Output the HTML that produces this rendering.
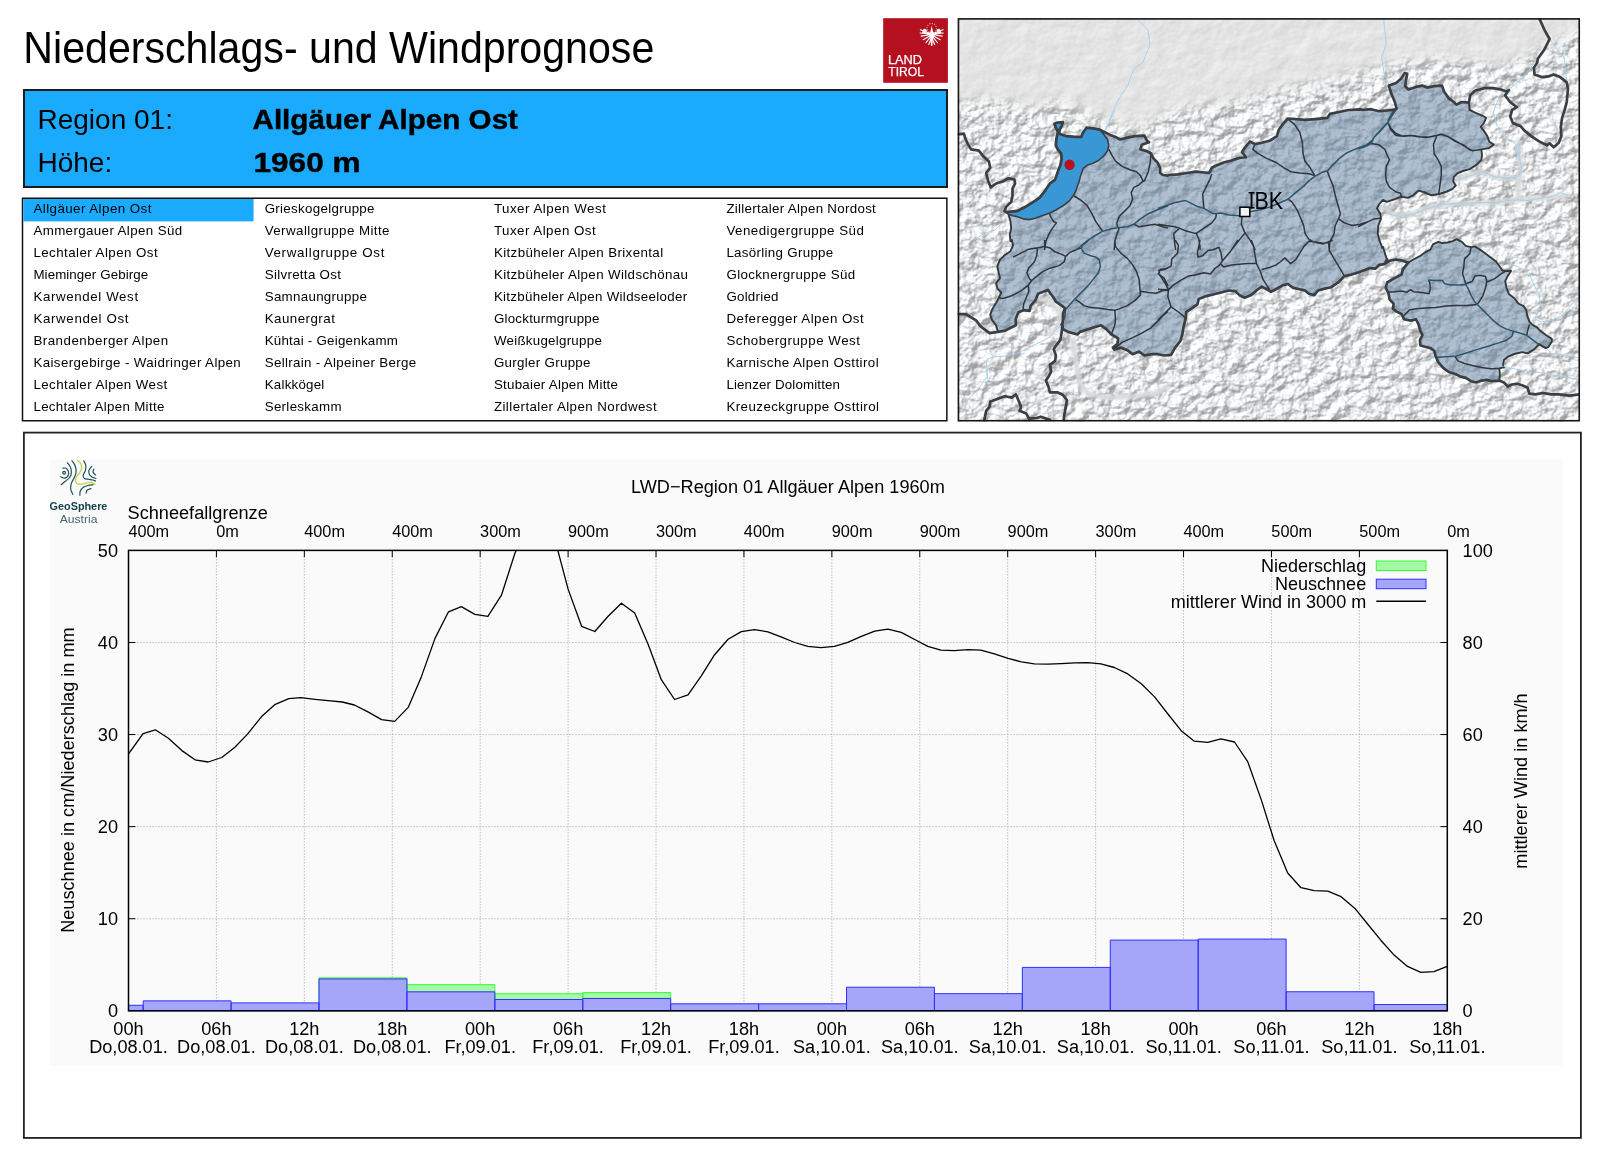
<!DOCTYPE html>
<html lang="de"><head><meta charset="utf-8"><title>Niederschlags- und Windprognose</title>
<style>
html,body{margin:0;padding:0;background:#fff;}
body{width:1600px;height:1153px;overflow:hidden;font-family:"Liberation Sans",sans-serif;}
svg{display:block;position:absolute;left:0;top:0;}
</style></head><body>
<svg width="1600" height="1153" viewBox="0 0 1600 1153">
<rect width="1600" height="1153" fill="#fff"/>
<g opacity="0.999">
<text font-family="'Liberation Sans', sans-serif" x="23.3" y="63" font-size="44" textLength="631" lengthAdjust="spacingAndGlyphs" fill="#000">Niederschlags- und Windprognose</text>
<rect x="24" y="90" width="923" height="97" fill="#1aabff" stroke="#1b1b1b" stroke-width="2"/>
<g font-family="'Liberation Sans', sans-serif" font-size="28" fill="#000">
<text x="37.5" y="129">Region 01:</text>
<text x="37.5" y="172">Höhe:</text>
<text x="252.5" y="128.8" font-weight="bold" stroke="#000" stroke-width="0.45" textLength="265.5" lengthAdjust="spacingAndGlyphs">Allgäuer Alpen Ost</text>
<text x="253.5" y="171.9" font-weight="bold" stroke="#000" stroke-width="0.45" textLength="107" lengthAdjust="spacingAndGlyphs">1960 m</text>
</g>
<rect x="22.5" y="198.25" width="924.35" height="222.5" fill="#fff" stroke="#111" stroke-width="1.5"/>
<rect x="23.25" y="199" width="230.3" height="22.4" fill="#1aabff"/>
<g font-family="'Liberation Sans', sans-serif" font-size="13.33" fill="#000">
<text x="33.4" y="213.25" letter-spacing="0.447">Allgäuer Alpen Ost</text>
<text x="33.4" y="235.25" letter-spacing="0.379">Ammergauer Alpen Süd</text>
<text x="33.4" y="257.25" letter-spacing="0.439">Lechtaler Alpen Ost</text>
<text x="33.4" y="279.25" letter-spacing="0.087">Mieminger Gebirge</text>
<text x="33.4" y="301.25" letter-spacing="0.608">Karwendel West</text>
<text x="33.4" y="323.25" letter-spacing="0.642">Karwendel Ost</text>
<text x="33.4" y="345.25" letter-spacing="0.489">Brandenberger Alpen</text>
<text x="33.4" y="367.25" letter-spacing="0.397">Kaisergebirge - Waidringer Alpen</text>
<text x="33.4" y="389.25" letter-spacing="0.426">Lechtaler Alpen West</text>
<text x="33.4" y="411.25" letter-spacing="0.325">Lechtaler Alpen Mitte</text>
<text x="264.7" y="213.25" letter-spacing="0.307">Grieskogelgruppe</text>
<text x="264.7" y="235.25" letter-spacing="0.433">Verwallgruppe Mitte</text>
<text x="264.7" y="257.25" letter-spacing="0.675">Verwallgruppe Ost</text>
<text x="264.7" y="279.25" letter-spacing="0.308">Silvretta Ost</text>
<text x="264.7" y="301.25" letter-spacing="0.3">Samnaungruppe</text>
<text x="264.7" y="323.25" letter-spacing="0.467">Kaunergrat</text>
<text x="264.7" y="345.25" letter-spacing="0.239">Kühtai - Geigenkamm</text>
<text x="264.7" y="367.25" letter-spacing="0.321">Sellrain - Alpeiner Berge</text>
<text x="264.7" y="389.25" letter-spacing="0.225">Kalkkögel</text>
<text x="264.7" y="411.25" letter-spacing="0.311">Serleskamm</text>
<text x="493.9" y="213.25" letter-spacing="0.5">Tuxer Alpen West</text>
<text x="493.9" y="235.25" letter-spacing="0.479">Tuxer Alpen Ost</text>
<text x="493.9" y="257.25" letter-spacing="0.381">Kitzbüheler Alpen Brixental</text>
<text x="493.9" y="279.25" letter-spacing="0.371">Kitzbüheler Alpen Wildschönau</text>
<text x="493.9" y="301.25" letter-spacing="0.3">Kitzbüheler Alpen Wildseeloder</text>
<text x="493.9" y="323.25" letter-spacing="0.236">Glockturmgruppe</text>
<text x="493.9" y="345.25" letter-spacing="0.264">Weißkugelgruppe</text>
<text x="493.9" y="367.25" letter-spacing="0.308">Gurgler Gruppe</text>
<text x="493.9" y="389.25" letter-spacing="0.253">Stubaier Alpen Mitte</text>
<text x="493.9" y="411.25" letter-spacing="0.436">Zillertaler Alpen Nordwest</text>
<text x="726.4" y="213.25" letter-spacing="0.3">Zillertaler Alpen Nordost</text>
<text x="726.4" y="235.25" letter-spacing="0.472">Venedigergruppe Süd</text>
<text x="726.4" y="257.25" letter-spacing="0.307">Lasörling Gruppe</text>
<text x="726.4" y="279.25" letter-spacing="0.382">Glocknergruppe Süd</text>
<text x="726.4" y="301.25" letter-spacing="0.243">Goldried</text>
<text x="726.4" y="323.25" letter-spacing="0.479">Deferegger Alpen Ost</text>
<text x="726.4" y="345.25" letter-spacing="0.506">Schobergruppe West</text>
<text x="726.4" y="367.25" letter-spacing="0.435">Karnische Alpen Osttirol</text>
<text x="726.4" y="389.25" letter-spacing="0.147">Lienzer Dolomitten</text>
<text x="726.4" y="411.25" letter-spacing="0.441">Kreuzeckgruppe Osttirol</text>
</g>
<rect x="883.2" y="18.2" width="64.7" height="64.6" fill="#b5101f"/>
<g font-family="'Liberation Sans', sans-serif" font-size="12.6" fill="#fff" stroke="#fff" stroke-width="0.25"><text x="888" y="64" textLength="34" lengthAdjust="spacingAndGlyphs">LAND</text><text x="888.3" y="76" textLength="35.6" lengthAdjust="spacingAndGlyphs">TIROL</text></g>
<path d="M932.87 34.22L920.34 29.65M930.51 34.22L943.04 29.65M932.87 34.22L920.04 33.04M930.51 34.22L943.34 33.04M932.87 34.22L921.08 36.13M930.51 34.22L942.30 36.13M932.87 34.22L923.14 39.67M930.51 34.22L940.24 39.67M932.87 34.22L925.94 42.62M930.51 34.22L937.44 42.62M932.87 34.22L928.74 44.54M930.51 34.22L934.64 44.54" stroke="#fff" stroke-width="1.1" stroke-linecap="round" fill="none"/>
<ellipse cx="938.62" cy="30.24" rx="1.9" ry="1.6" fill="#fff"/>
<path d="M933.46 34.51L940.54 32.15" stroke="#fff" stroke-width="1.7" stroke-linecap="round"/>
<ellipse cx="924.76" cy="30.24" rx="1.9" ry="1.6" fill="#fff"/>
<path d="M929.92 34.51L922.85 32.15" stroke="#fff" stroke-width="1.7" stroke-linecap="round"/>
<path d="M931.69 26.11L933.16 32.15L934.34 35.69L932.87 38.64L932.43 45.42L931.69 46.16L930.95 45.42L930.51 38.64L929.04 35.69L930.22 32.15Z" fill="#fff"/>
<circle cx="931.69" cy="28.17" r="4.7" fill="none" stroke="#fff" stroke-opacity="0.6" stroke-width="1.1" stroke-dasharray="1.1 1.3"/>
<defs>
<clipPath id="mc"><rect x="957.7" y="18.0" width="622.3" height="403.5"/></clipPath>
<filter id="terr" x="0" y="0" width="100%" height="100%" color-interpolation-filters="sRGB">
<feTurbulence type="fractalNoise" baseFrequency="0.075 0.09" numOctaves="5" seed="7" result="n"/>
<feDiffuseLighting in="n" surfaceScale="7" diffuseConstant="1.0" lighting-color="#ffffff" result="l"><feDistantLight azimuth="225" elevation="48"/></feDiffuseLighting>
<feComponentTransfer><feFuncR type="linear" slope="0.40" intercept="0.615"/><feFuncG type="linear" slope="0.40" intercept="0.62"/><feFuncB type="linear" slope="0.40" intercept="0.625"/></feComponentTransfer>
</filter>
<filter id="terr2" x="0" y="0" width="100%" height="100%" color-interpolation-filters="sRGB">
<feTurbulence type="fractalNoise" baseFrequency="0.05 0.06" numOctaves="4" seed="11" result="n"/>
<feDiffuseLighting in="n" surfaceScale="0.38" diffuseConstant="1.2" lighting-color="#ffffff"><feDistantLight azimuth="225" elevation="48"/></feDiffuseLighting>
</filter>
<filter id="blur1" x="-5%" y="-5%" width="110%" height="110%"><feGaussianBlur stdDeviation="1.3"/></filter>
<filter id="blur6" x="-10%" y="-10%" width="120%" height="120%"><feGaussianBlur stdDeviation="7"/></filter>
<mask id="mm" maskUnits="userSpaceOnUse" x="957.7" y="18.0" width="622.3" height="403.5"><path d="M950 104 L990 98 L1030 108 L1060 100 L1100 118 L1140 128 L1170 112 L1200 106 L1240 100 L1270 92 L1300 86 L1330 80 L1360 72 L1400 62 L1440 58 L1470 62 L1500 66 L1530 56 L1560 40 L1590 22 L1600 10 L1600 440 L950 440 Z" fill="#fff" filter="url(#blur6)"/></mask>
</defs>
<g clip-path="url(#mc)">
<rect x="957.7" y="18.0" width="622.3" height="403.5" fill="#e4e4e4"/>
<rect x="957.7" y="18.0" width="622.3" height="403.5" filter="url(#terr2)" opacity="0.9"/>
<g mask="url(#mm)"><rect x="957.7" y="18.0" width="622.3" height="403.5" filter="url(#terr)"/></g>
<path d="M1072.2 339.9 L1074.2 351.7 L1076.1 363.5 L1080.1 384.5 L1089.2 395 L1108.9 397.6 L1135.2 396.3 L1154.9 393.7 L1168 387.1 M1384.2 205.8 L1392.1 215 L1407.9 215 L1423.6 209.8 L1443.3 204.5 L1469.6 203.2 L1495.8 202.5 L1518.1 199.9 L1541.8 197.9 L1568 195.3 M1518.8 142.8 L1519.7 155.9 L1520.8 169.1 L1518.8 183.5 L1518.1 199.9 M1451.8 180.9 L1465.6 176.9 L1481.4 171.7 L1494.5 176.9 L1512.9 178.2 M1038.1 297.8 L1049.9 301.7 L1060.4 313.5 L1059.1 325.3 L1049.9 334.5" fill="none" stroke="#d6d7d8" stroke-width="5.5" stroke-linejoin="round" stroke-linecap="round" opacity="0.85" filter="url(#blur1)"/>
<path d="M1114.8 110 L1110.9 117.9 L1108.9 124.4 L1105.7 129.7 M975.1 239.3 L984.2 233.4 L994.8 230.1 L1001.3 224.2 L1006.6 217.6 M1383.6 18 L1386.2 44.2 L1381.6 57.4 L1384.2 73.1 L1388.8 84.9 M1536.5 60 L1528.6 70.5 L1522.1 78.4 L1512.9 86.2 L1502.4 92.8 L1497.1 102 L1493.2 112.5 L1497.1 125.6 L1505 136.1 L1515.5 144 L1519.4 158 M1549.6 39 L1557.5 49.5 L1564.1 57.4 L1566.7 81 M1518.8 142.8 L1519.4 155.9 L1521.4 169.1 L1518.1 176.9 L1512.9 178.2 L1502.4 177.6 L1494.5 176.9 L1487.9 173.7 L1481.4 171.7 L1473.5 175 L1465.6 176.9 L1457.8 179.6 L1451.8 180.9 M1568 195.3 L1560.1 192.7 L1552.2 196.6 L1541.8 197.9 L1528.6 200.6 L1518.1 199.9 L1506.3 200.6 L1495.8 202.5 L1482.7 202.5 L1469.6 203.2 L1456.4 203.2 L1443.3 204.5 L1432.8 207.1 L1423.6 209.8 L1414.4 213.7 L1407.9 215 L1400 216.3 L1392.1 215 L1385.6 212.4 L1384.2 205.8 L1385.6 201.9 M1060.4 325.3 L1055.1 330.6 L1049.9 337.1 L1042 341.1 L1034.1 345 L1026.2 348.9 L1015.8 354.2 L1003.9 356.2 L993.4 356.8 L986.9 359.4 L986.2 368.6 L987.5 376.5 L986.9 380 M987.5 368.8 L986.9 376.6 L977.7 389.8 L968.5 398.9 L959.3 406.8 M1405.4 272 L1409.4 279.9 L1417.2 282.5 L1427.8 279.9 M1506.5 261.5 L1514.4 265.4 L1523.6 269.4 L1530.1 275.9 L1534.1 285.1 L1539.3 295.6 L1540.6 304.8 L1536.7 314 L1535.4 319.2 L1540.6 321.9 L1551.1 320.6 L1560.3 316.6 L1568.2 308.8 L1574.8 300.9 L1578.7 299.6 M1545.9 348.1 L1551.1 353.4 L1560.3 354.7 L1569.5 356 L1578.7 358 M1413.3 363.9 L1422.5 361.2 L1430.4 358 L1436.9 357.3 M1503.9 367.4 L1514.4 368.8 L1527.5 371.4 L1540.6 372.7 L1553.8 375.3 L1566.9 377.3 L1578.7 379.9 M1138 20 L1148 30 L1150 45 L1143 62 L1133 70 L1128 85 L1118 100 L1113 112 L1108 125 L1104 131" fill="none" stroke="#9fd0ee" stroke-width="0.9" stroke-linejoin="round"/>
<path d="M1099.8 129.7 L1103.7 131.7 L1110.2 134.9 L1116.8 137.6 L1120.1 139.5 L1127.3 137.6 L1135.2 136.2 L1144.4 135.6 L1147 140.8 L1149 142.2 L1141.8 144.8 L1140.4 149.4 L1147 151.3 L1150.9 153.3 L1153.6 158.6 L1157.5 162.5 L1160.1 167.8 L1160.1 173 L1162.8 175 L1168 175.6 L1168.5 175 L1177.7 174.3 L1186.9 173 L1196.1 171.7 L1209.2 173 L1211.8 167.8 L1215.8 165.8 L1223.6 162.5 L1231.5 160.5 L1239.4 157.9 L1245.9 157.2 L1242 152 L1244.6 148.1 L1249.9 141.5 L1255.1 144.1 L1261.7 142.8 L1269.6 140.8 L1276.8 136.2 L1278.8 129.7 L1282.7 124.4 L1287.9 118.5 L1295.8 119.2 L1305 119.8 L1315.5 119.2 L1327.3 117.9 L1329.9 113.9 L1339.1 112 L1348.3 110 L1360.1 109.3 L1363.2 109.9 L1371.1 109.2 L1379 111.2 L1386.9 110.5 L1393.4 109.9 L1396.7 108.6 L1394.8 102 L1391.5 94.1 L1388.8 85.6 L1396.1 83 L1401.3 78.4 L1404.6 73.1 L1407.2 73.8 L1405.9 81 L1405.2 86.2 L1408.5 89.5 L1415.8 86.9 L1422.3 85.6 L1426.9 87.6 L1434.1 86.2 L1442 85.6 L1444 91.5 L1448.6 98.1 L1453.8 102 L1456.4 104.6 L1461.7 102 L1468.9 102.7 L1469.6 109.9 L1476.1 113.2 L1482.7 115.8 L1486 117.8 L1484 123 L1480.7 126.9 L1484 130.9 L1487.3 136.1 L1489.2 141.4 L1493.8 144.7 L1489.2 148.1 L1481.4 149.4 L1482 155.3 L1481.4 159.9 L1476.1 165.1 L1469.6 169.1 L1463 171 L1457.8 173 L1453.8 176.9 L1453.2 181.5 L1455.8 185.5 L1452.5 188.8 L1447.2 191.4 L1439.4 194 L1431.5 195.3 L1423.6 192 L1418.4 190.7 L1413.1 195.3 L1407.9 197.9 L1401.3 196.6 L1394.8 199.2 L1386.9 201.9 L1382.9 199.9 L1379 204.5 L1377 208.4 L1380.3 213.7 L1381 218.9 L1378.3 225.5 L1377.7 233.4 L1379.7 241.2 L1382.3 247.8 L1383.1 247.1 L1385.8 256.2 L1387.1 259.5 L1384.4 264.1 L1379.2 264.8 L1375.2 268.7 L1370 268.1 L1358.8 272.2 L1350.9 274.8 L1344.4 276.1 L1337.8 282.7 L1331.2 287.2 L1324.7 288.6 L1318.1 290.5 L1314.2 295.1 L1308.9 293.8 L1305 290.5 L1299.8 289.2 L1293.2 287.9 L1287.9 284 L1282.7 285.3 L1276.1 289.2 L1270.9 291.8 L1265.6 288.6 L1261.7 286.6 L1256.4 290.5 L1251.2 295.1 L1244.6 297.8 L1239.4 295.1 L1235.4 291.2 L1228.9 290.5 L1221 292.5 L1213.1 294.5 L1205.2 296.4 L1198.7 299.1 L1197.4 304.3 L1192.1 308.2 L1186.2 312.2 L1185.6 318.8 L1183.6 326.6 L1182.3 334.5 L1180.3 341.1 L1175.1 347.6 L1171.1 354.8 L1164.6 355.5 L1158 354.2 L1152.2 354.2 L1144.4 355.5 L1139.1 351.6 L1132.6 354.2 L1127.3 350.2 L1120.8 347.6 L1114.2 349.6 L1112.9 347.6 L1117.5 343.7 L1118.1 338.4 L1111.6 334.5 L1106.3 329.2 L1101.1 325.3 L1094.5 327.3 L1087.9 329.2 L1080.1 331.9 L1077.4 334.5 L1068.2 331.9 L1063 329.2 L1062.3 325.3 L1063 318.8 L1063 313.5 L1065 308.2 L1061.7 305.6 L1055.8 301.7 L1053.8 297.8 L1051.2 294.5 L1047.9 289.9 L1043.3 291.8 L1038.1 293.8 L1035.4 300.4 L1030.8 305.6 L1029.5 310.9 L1023.6 310.2 L1018.4 312.2 L1015.8 318.8 L1015.8 325.3 L1011.8 327.3 L1005.2 330.6 L998 331.9 L996.1 325.3 L992.1 320.1 L990.2 314.8 L992.1 309.6 L996.1 303 L998.7 297.8 L1001.3 292.5 L997.4 288.6 L996.1 283.3 L1000 278.1 L998.7 272.8 L997.4 266.2 L1000 259.7 L1003.9 255.8 L1010.5 251.2 L1013.1 245.2 L1011.8 240 L1010.5 241.2 L1009.8 234.7 L1011.2 228.1 L1010.5 221.6 L1008.5 214.3 L1006.6 212.4 L1010.5 211.7 L1017.1 211.1 L1023.6 207.8 L1031.5 203.2 L1039.4 197.9 L1044.6 191.4 L1049.9 183.5 L1055.1 179.6 L1055.8 177.6 L1057.8 171.7 L1060.4 165.1 L1061.7 158.6 L1061 153.3 L1057.8 149.4 L1055.8 145.4 L1056.4 138.9 L1057.8 132.3 L1057.8 131.7 L1055.8 127.7 L1054.5 123.8 L1057.8 122.5 L1063 122.1 L1061.7 125.8 L1059.7 129.7 L1059.1 132.3 L1060.4 134.3 L1066.9 136.2 L1074.8 136.9 L1081.4 136.9 L1082.7 133 L1086.6 127.7 L1093.2 128.4 L1099.8 129.7 Z M1408.1 262.8 L1413.3 259.5 L1419.9 256.2 L1425.1 252.3 L1430.4 249.7 L1433 244.4 L1438.2 241.8 L1442.2 243.1 L1447.4 242.5 L1452.7 241.2 L1456.6 239.2 L1461.9 241.8 L1465.8 245.8 L1471.1 247.1 L1475 246.4 L1480.2 249.7 L1485.5 253.6 L1490.8 257.6 L1496 261.5 L1499.9 266.8 L1502.6 270.7 L1511.1 270.7 L1507.8 275.9 L1505.2 281.2 L1506.5 287.8 L1509.1 294.3 L1514.4 298.2 L1518.3 303.5 L1523.6 306.1 L1526.2 310.1 L1527.5 316.6 L1529.5 321.9 L1532.8 325.2 L1536.7 327.1 L1540.6 331.1 L1545.9 335 L1551.8 338.9 L1551.8 341.6 L1548.5 346.8 L1545.9 348.1 L1539.3 344.2 L1538 345.5 L1534.1 349.4 L1527.5 353.4 L1522.2 352.1 L1514.4 354 L1507.8 356.7 L1503.9 359.9 L1503.2 365.2 L1503.9 367.4 L1499.3 368.4 L1499.9 374 L1499.3 380.6 L1492.1 381.2 L1486.8 379.9 L1481.6 380.6 L1476.3 382.5 L1471.1 381.2 L1465.8 377.9 L1460.6 376.6 L1455.3 374 L1448.8 372 L1443.5 368.1 L1438.2 362.2 L1435.6 356 L1434.3 350.8 L1430.4 348.1 L1425.1 346.8 L1420.5 345.5 L1419.9 340.2 L1422.5 335 L1420.5 331.1 L1418.6 324.5 L1415.9 319.2 L1410.7 320.6 L1404.1 319.2 L1401.5 314 L1396.2 311.4 L1393 308.8 L1393.6 303.5 L1389.7 299.6 L1388.4 293 L1385.8 287.8 L1387.1 282.5 L1393.6 278.6 L1401.5 274.6 L1402.8 269.4 L1408.1 262.8 Z" fill="#6f8cac" fill-opacity="0.55"/>
<path d="M1108.9 149.4 L1111.6 154.6 L1115.5 161.2 L1122.1 166.4 L1129.9 169.7 L1136.5 171.7 L1140.4 175.6 L1143.1 180.9 L1139.1 184.8 L1133.9 187.4 L1131.2 192.7 L1132.6 199.2 L1129.9 205.8 L1124.7 211.1 L1119.4 216.3 L1116.8 222.9 L1117.5 226.8 M1150.9 153.3 L1150.3 162.5 L1148.3 171.7 L1144.4 180.9 L1143.1 181.5 M1074.2 196 L1081.4 200.6 L1087.3 205.8 L1091.9 213.7 L1095.8 221.6 L1100.4 228.1 L1102.4 230.8 M1049.2 213 L1051.2 217.6 L1053.8 221.6 L1056.4 222.9 L1052.5 228.1 L1048.6 234.7 L1045.9 241.2 L1044.6 250 M1133.9 224.2 L1139.1 226.8 L1147 225.5 L1154.9 224.2 L1162.8 226.8 L1168 228.1 M1119.4 227.5 L1116.8 234.7 L1114.8 241.2 L1114.2 250 M1287.9 119.2 L1294.5 124.4 L1299.8 132.3 L1302.4 142.8 L1303 153.3 L1305 161.2 L1310.2 167.8 L1314.8 175.6 M1254.9 144.4 L1252.8 149.4 L1257.8 153.3 L1265.6 157.9 L1276.1 162.5 L1284 167.8 L1290.6 171.7 L1299.8 173 L1308.9 173.7 L1314.8 175.6 M1211.8 174.3 L1209.8 179.6 L1206.6 186.1 L1202.6 194 L1203.3 201.9 L1203.9 208.4 M1327.3 171 L1329.9 178.2 L1333.2 186.1 L1335.2 195.3 L1337.8 204.5 L1340.4 213.7 L1338.5 218.9 L1335.2 225.5 L1333.9 234.7 L1329.9 241.2 L1323.4 243.9 L1315.5 242.6 L1308.9 239.3 L1305 233.4 L1303.7 225.5 L1300.4 217.6 L1297.1 209.8 L1291.9 201.9 L1287.9 199.2 M1338.5 218.9 L1344.4 222.9 L1352.2 225.5 L1360.1 224.2 L1368 221.6 M1329.9 241.2 L1329.3 250 M1242 217 L1241.3 224.2 L1244.6 232.1 L1249.9 239.9 L1253.8 246.5 L1255.1 250 M1244.6 233.4 L1239.4 239.9 L1234.1 246.5 L1231.5 250 M1158 224.2 L1165.9 225.5 L1175.1 226.8 L1179 228.1 L1185.6 230.8 L1194.8 233.4 L1197.4 232.7 L1203.9 228.1 L1211.8 222.9 L1215.8 217.6 L1216.4 213.7 M1179 228.8 L1173.8 233.4 L1174.4 241.2 L1175.7 250 M1196.1 233.4 L1198.7 238.6 L1200 246.5 L1200 250 M1388.2 123 L1390.8 128.2 L1396.1 133.5 L1402.6 136.1 L1410.5 135.5 L1418.4 136.8 L1426.2 137.4 L1434.1 136.1 L1440.7 134.2 L1448.6 136.8 L1455.1 141.4 L1463 144.7 L1470.9 150.6 M1388.2 123.1 L1390.8 129.7 L1396.1 135.6 L1403.9 136.2 L1413.1 135.6 L1421 136.9 L1428.9 136.9 L1436.8 135.6 L1442 134.3 L1449.9 137.6 L1457.8 142.2 L1465.6 146.8 L1472.2 150.7 L1481.4 149.4 M1436.8 136.2 L1433.5 144.1 L1434.1 153.3 L1438.1 159.9 L1441.3 166.4 L1441.3 175.6 L1440 184.8 L1438.7 194 M1371.1 143.5 L1379 144.8 L1384.9 149.4 L1386.9 154.6 L1389.5 159.9 L1386.2 166.4 L1385.6 174.3 L1386.2 180.9 L1389.5 187.4 L1396.1 192 L1400.7 193.3 L1401.3 197.3 M1358 226.8 L1365.9 222.9 L1373.8 218.9 L1380.3 218.3 M1044.6 240 L1044.6 245.9 M1013.1 257.1 L1021 253.1 L1028.9 249.2 L1036.8 247.9 L1044.6 246.6 L1049.9 247.9 L1055.1 251.8 L1061.7 254.4 L1065.6 256.4 L1069.6 252.5 L1076.1 249.8 L1081.4 247.9 M1037.4 247.9 L1036.8 255.8 L1034.1 262.3 L1028.9 267.6 L1026.9 272.8 L1029.5 278.7 L1031.5 280.7 M1065.6 256.4 L1064.3 261.7 L1059.1 265.6 L1049.9 268.2 L1042 272.2 L1035.4 277.4 L1031.5 280.7 L1028.2 285.3 L1022.3 289.9 L1014.4 294.5 L1007.9 297.1 L1002.6 298.4 L998.7 297.8 M1028.2 285.9 L1028.9 291.2 L1026.2 297.8 L1023.6 304.3 L1023 310.2 M1114.8 240 L1115.5 246.6 L1120.8 253.1 L1127.3 258.4 L1132.6 264.9 L1136.5 271.5 L1139.1 279.4 L1139.8 287.2 L1140.4 295.1 L1135.2 300.4 L1127.3 305.6 L1119.4 308.9 L1114.8 310.2 L1107.6 309.6 L1099.8 308.2 L1090.6 307.6 L1084 305.6 L1078.8 301.7 L1075.5 299.7 M1140.4 291.2 L1148.3 292.5 L1156.2 293.2 L1162.8 290.5 L1168 289.9 M1114.8 310.2 L1115.5 318.8 L1114.8 325.3 L1112.2 331.9 L1111.6 334.5 M1114.2 348.9 L1122.1 342.4 L1131.2 338.4 L1141.8 333.2 L1150.9 327.9 L1157.5 321.4 L1164.1 314.8 L1168 311.5 M1168 268.2 L1160.1 269.5 L1158.8 274.1 L1164.1 278.1 L1166.7 283.3 L1168 285.9 M1175.1 240 L1178.3 245.2 L1177.7 253.1 L1171.8 259 L1171.1 266.2 L1164.6 269.5 L1158 270.8 M1158 272.8 L1161.9 278.1 L1165.9 284.6 L1168.5 289.9 M1158 289.2 L1168.5 289.9 L1173.8 284.6 L1180.3 280.7 L1188.2 276.1 L1196.1 274.8 L1203.9 272.8 L1210.5 274.1 L1214.4 268.9 L1219.7 264.9 L1222.3 261 L1221 253.1 L1219 247.2 L1213.1 249.8 L1207.9 250.5 L1202.6 255.8 L1198 257.1 L1197.4 253.1 L1198.7 246.6 L1200 240 M1222.3 261 L1230.2 251.8 L1235.4 243.9 L1238.1 240 M1221 264.3 L1223.6 266.9 L1231.5 264.9 L1239.4 264.3 L1247.2 263.6 L1256.4 263.4 M1251.2 240 L1253.8 246.6 L1255.1 255.8 L1256.4 263.4 L1260.4 271.5 L1263 279.4 L1266.9 285.3 L1270.9 291.8 M1261.7 269.5 L1269.6 267.6 L1276.1 264.9 L1281.4 261 L1284.7 257.7 L1287.9 261 L1290.6 263.6 L1295.8 259.7 L1299.8 253.1 L1303.7 246.6 L1308.9 241.3 L1315.5 242 L1323.4 243.3 L1328.6 242.6 L1332.6 240 M1328.6 242.6 L1329.3 250.5 L1333.9 258.4 L1337.8 264.9 L1341.8 271.5 L1344.4 276.1 M1168.5 289.9 L1167.8 296.4 L1169.8 303 L1171.1 306.9 L1164.6 313.5 L1158 320.1 M1171.1 306.9 L1177.7 311.5 L1183.6 316.1 L1185.6 318.8 M1471.1 247.1 L1469.8 253.6 L1464.5 258.9 L1463.8 266.8 L1462.5 273.3 L1464.5 279.9 L1465.8 283.8 M1465.8 283.8 L1472.4 281.2 L1475 275.9 L1480.2 275.3 L1485.5 276.6 L1486.8 281.2 L1485.5 287.8 L1482.9 295.6 L1478.9 302.2 L1477 304.2 M1487.5 281.8 L1494.7 278.6 L1499.9 274.6 L1505.2 271.3 L1511.1 270.7 M1388.4 292.3 L1394.9 291.7 L1401.5 291 L1406.8 292.3 L1410.7 289.7 L1413.3 291.7 L1419.9 292.3 L1425.1 293 L1429.1 293.7 L1430.4 287.8 L1429.7 282.5 L1428.4 279.9 M1403.5 316 L1409.4 310.1 L1415.9 308.8 L1425.1 308.1 L1435.6 307.4 L1446.1 306.1 L1456.6 305.5 L1467.1 305.5 L1477 304.6 M1529.5 324.5 L1527.5 331.1 L1526.8 335 M1455.3 356.9 L1457.9 360.9 L1464.5 363.5 L1472.4 365.5 L1481.6 367.4 L1490.8 368.8 L1499.3 368.4" fill="none" stroke="#30363b" stroke-width="1.5" stroke-linejoin="round"/>
<path d="M1388.8 85.6 L1391.5 94.1 L1394.8 102 L1396.7 108.6 L1388.2 121.7 L1375.1 136.1 L1371.1 141.4 L1365.9 145.3 L1358 147.9 M1394.1 110 L1389.5 117.9 L1387.5 123.1 L1380.3 131 L1373.8 137.6 L1371.1 143.5 L1364.6 146.8 L1358 148.7 M1158 208.4 L1165.9 205.8 L1175.1 202.5 L1185.6 200.6 L1190.8 203.2 L1197.4 206.5 L1203.9 208.4 L1213.1 213.7 L1221 213 L1228.9 215 L1239.4 215.7 L1249.9 211.7 L1260.4 209.8 L1269.6 207.1 L1278.8 203.2 L1287.9 199.2 L1297.1 191.4 L1303.7 186.1 L1308.9 180.9 L1314.8 176.3 L1322.1 172.3 L1327.3 171 L1332.6 165.1 L1339.1 158.6 L1347 152.7 L1357.5 148.1 L1368 144.8 M1168 205.8 L1157.5 209.8 L1148.3 213.7 L1140.4 218.9 L1133.9 224.2 L1127.3 226.8 L1119.4 227.5 L1111.6 228.8 L1102.4 231.4 L1094.5 236 L1086.6 241.2 L1080.1 246.5 L1076.1 250 M1089.2 240 L1082.7 245.2 L1081.4 248.5 L1084 253.1 L1090.6 255.8 L1095.8 257.1 L1099.1 259.7 L1100.4 266.2 L1098.4 272.8 L1093.2 279.4 L1087.9 285.9 L1081.4 292.5 L1074.8 299.1 L1069.6 305 L1065.6 309.6 L1065 316.1 L1063 321.4 L1060.4 325.3 M1428.4 279.9 L1435.6 280.5 L1442.2 280.5 L1444.8 283.8 L1451.4 285.1 L1459.2 285.1 L1465.8 284.5 L1468.4 289.1 L1471.1 295.6 L1475 302.2 L1477.6 304.8 L1482.9 310.1 L1488.1 315.3 L1493.4 320.6 L1499.9 325.8 L1506.5 329.1 L1513.1 331.1 L1519.6 333 L1526.2 335 L1531.4 338.9 L1536.7 342.9 L1541.9 346.2 L1545.9 348.1 M1513.7 331.1 L1511.8 336.3 L1506.5 340.2 L1498.6 342.9 L1488.1 346.2 L1477.6 349.4 L1467.1 352.7 L1456.6 356 L1446.1 356.7 L1436.9 357.3" fill="none" stroke="#2b556b" stroke-width="1.5" stroke-linejoin="round"/>
<path d="M1468.9 102.7 L1469.6 109.9 L1476.1 113.2 L1482.7 115.8 L1486 117.8 L1484 123 L1480.7 126.9 L1484 130.9 L1487.3 136.1 L1489.2 141.4 L1493.8 144.7 L1489.2 148.1 L1481.4 149.4 L1482 155.3 L1481.4 159.9 L1476.1 165.1 L1469.6 169.1 L1463 171 L1457.8 173 L1453.8 176.9 L1453.2 181.5 L1455.8 185.5 L1452.5 188.8 L1447.2 191.4 L1439.4 194 L1431.5 195.3 L1423.6 192 L1418.4 190.7 L1413.1 195.3 L1407.9 197.9 L1401.3 196.6 L1394.8 199.2 L1386.9 201.9 L1382.9 199.9 L1379 204.5 L1377 208.4 L1380.3 213.7 L1381 218.9 L1378.3 225.5 L1377.7 233.4 L1379.7 241.2 L1382.3 247.8 L1383.1 247.1 L1385.8 256.2 L1387.1 259.5 M998 331.9 L996.1 325.3 L992.1 320.1 L990.2 314.8 L992.1 309.6 L996.1 303 L998.7 297.8 L1001.3 292.5 L997.4 288.6 L996.1 283.3 L1000 278.1 L998.7 272.8 L997.4 266.2 L1000 259.7 L1003.9 255.8 L1010.5 251.2 L1013.1 245.2 L1011.8 240 L1010.5 241.2 L1009.8 234.7 L1011.2 228.1 L1010.5 221.6 L1008.5 214.3 M1408.1 262.8 L1413.3 259.5 L1419.9 256.2 L1425.1 252.3 L1430.4 249.7 L1433 244.4 L1438.2 241.8 L1442.2 243.1 L1447.4 242.5 L1452.7 241.2 L1456.6 239.2 L1461.9 241.8 L1465.8 245.8 L1471.1 247.1 L1475 246.4 L1480.2 249.7 L1485.5 253.6 L1490.8 257.6 L1496 261.5 L1499.9 266.8 L1502.6 270.7 L1511.1 270.7 L1507.8 275.9 L1505.2 281.2 L1506.5 287.8 L1509.1 294.3 L1514.4 298.2 L1518.3 303.5 L1523.6 306.1 L1526.2 310.1 L1527.5 316.6 L1529.5 321.9 L1532.8 325.2 L1536.7 327.1 L1540.6 331.1 L1545.9 335 L1551.8 338.9 L1551.8 341.6 L1548.5 346.8 L1545.9 348.1 L1539.3 344.2 L1538 345.5 L1534.1 349.4 L1527.5 353.4 L1522.2 352.1 L1514.4 354 L1507.8 356.7 L1503.9 359.9 L1503.2 365.2 M1503.9 367.4 L1499.3 368.4 L1499.9 374 L1499.3 380.6" fill="none" stroke="#34393e" stroke-width="1.9" stroke-linejoin="round" stroke-linecap="round"/>
<path d="M1099.8 129.7 L1103.7 131.7 L1110.2 134.9 L1116.8 137.6 L1120.1 139.5 L1127.3 137.6 L1135.2 136.2 L1144.4 135.6 L1147 140.8 L1149 142.2 L1141.8 144.8 L1140.4 149.4 L1147 151.3 L1150.9 153.3 L1153.6 158.6 L1157.5 162.5 L1160.1 167.8 L1160.1 173 L1162.8 175 L1168 175.6 L1168.5 175 L1177.7 174.3 L1186.9 173 L1196.1 171.7 L1209.2 173 L1211.8 167.8 L1215.8 165.8 L1223.6 162.5 L1231.5 160.5 L1239.4 157.9 L1245.9 157.2 L1242 152 L1244.6 148.1 L1249.9 141.5 L1255.1 144.1 L1261.7 142.8 L1269.6 140.8 L1276.8 136.2 L1278.8 129.7 L1282.7 124.4 L1287.9 118.5 L1295.8 119.2 L1305 119.8 L1315.5 119.2 L1327.3 117.9 L1329.9 113.9 L1339.1 112 L1348.3 110 L1360.1 109.3 L1363.2 109.9 L1371.1 109.2 L1379 111.2 L1386.9 110.5 L1393.4 109.9 L1396.7 108.6 L1394.8 102 L1391.5 94.1 L1388.8 85.6 L1396.1 83 L1401.3 78.4 L1404.6 73.1 L1407.2 73.8 L1405.9 81 L1405.2 86.2 L1408.5 89.5 L1415.8 86.9 L1422.3 85.6 L1426.9 87.6 L1434.1 86.2 L1442 85.6 L1444 91.5 L1448.6 98.1 L1453.8 102 L1456.4 104.6 L1461.7 102 L1468.9 102.7 M1387.1 259.5 L1384.4 264.1 L1379.2 264.8 L1375.2 268.7 L1370 268.1 L1358.8 272.2 L1350.9 274.8 L1344.4 276.1 L1337.8 282.7 L1331.2 287.2 L1324.7 288.6 L1318.1 290.5 L1314.2 295.1 L1308.9 293.8 L1305 290.5 L1299.8 289.2 L1293.2 287.9 L1287.9 284 L1282.7 285.3 L1276.1 289.2 L1270.9 291.8 L1265.6 288.6 L1261.7 286.6 L1256.4 290.5 L1251.2 295.1 L1244.6 297.8 L1239.4 295.1 L1235.4 291.2 L1228.9 290.5 L1221 292.5 L1213.1 294.5 L1205.2 296.4 L1198.7 299.1 L1197.4 304.3 L1192.1 308.2 L1186.2 312.2 L1185.6 318.8 L1183.6 326.6 L1182.3 334.5 L1180.3 341.1 L1175.1 347.6 L1171.1 354.8 L1164.6 355.5 L1158 354.2 L1152.2 354.2 L1144.4 355.5 L1139.1 351.6 L1132.6 354.2 L1127.3 350.2 L1120.8 347.6 L1114.2 349.6 L1112.9 347.6 L1117.5 343.7 L1118.1 338.4 L1111.6 334.5 L1106.3 329.2 L1101.1 325.3 L1094.5 327.3 L1087.9 329.2 L1080.1 331.9 L1077.4 334.5 L1068.2 331.9 L1063 329.2 L1062.3 325.3 L1063 318.8 L1063 313.5 L1065 308.2 L1061.7 305.6 L1055.8 301.7 L1053.8 297.8 L1051.2 294.5 L1047.9 289.9 L1043.3 291.8 L1038.1 293.8 L1035.4 300.4 L1030.8 305.6 L1029.5 310.9 L1023.6 310.2 L1018.4 312.2 L1015.8 318.8 L1015.8 325.3 L1011.8 327.3 L1005.2 330.6 L998 331.9 M958 134.3 L963.9 133.6 L965.2 138.2 L967.8 144.1 L971.1 149.4 L979 150.7 L982.9 155.9 L988.8 161.2 L990.2 167.8 L986.2 173 L988.2 180.9 L990.8 187.4 L996.1 183.5 L1002.6 181.5 L1008.5 178.2 L1014.4 179.6 L1015.1 183.5 L1012.5 188.8 L1012.5 195.3 L1011.2 201.9 L1005.9 207.1 L1004.6 211.1 L1006.6 212.4 M958 314.2 L965.9 314.2 L971.1 317.4 L976.4 320.7 L980.3 326 L984.2 329.2 L989.5 333.2 L998 331.9 M1062.3 325.4 L1061.7 332 L1060.4 339.9 L1056.4 345.1 L1053.8 349.1 L1055.8 355.6 L1055.1 360.9 L1049.9 364.8 L1051.2 371.4 L1048.6 376.6 L1045.9 380.6 L1048.6 387.1 L1049.9 392.4 L1057.8 392.4 L1063 395 L1066.9 400.2 L1065.6 408.1 L1064.3 414.7 L1063.7 420.6 M984.2 420.6 L986.2 410.8 L989.5 406.8 L990.2 401.6 L997.4 398.9 L1005.2 396.3 L1011.8 397.6 L1015.8 394.3 L1018.4 400.2 L1021 406.8 L1019.7 410.8 L1026.2 413.4 L1028.9 418.6 L1036.8 418 L1040.7 416.7 L1049.9 419.9 M1499.3 380.6 L1503.9 382.5 L1507.8 386.5 L1511.8 384.5 L1517 383.8 L1522.2 385.2 L1527.5 387.8 L1529.5 393.7 L1535.4 394.3 L1543.2 393 L1551.1 394.3 L1559 394.3 L1569.5 395.7 L1580 394.3 M1370 268.1 L1375.2 268.7 L1379.2 264.8 L1384.4 264.1 L1389.7 260.8 L1396.2 259.5 L1402.8 260.8 L1408.1 262.8 M1539.1 18 L1544.4 29.8 L1549.6 39 L1544.4 49.5 L1537.8 58.7 L1537.2 62.6 L1533.9 67.9 L1534.5 74.4 L1541.8 77.1 L1548.3 76.4 L1553.6 74.4 L1560.1 77.1 L1566.7 82.3 L1568 88.9 L1566.7 102 L1564.7 109.9 L1562.1 117.8 L1560.8 126.9 L1561.4 136.1 L1558.8 142.7 L1553.6 147.3 L1549.6 143.3 L1547 145.3 L1539.1 141.4 L1531.2 136.1 L1524.7 130.9 L1520.8 126.3 L1512.9 123 L1510.2 116.4 L1512.2 109.9 L1516.8 107.2 L1510.2 102 L1505 95.4 L1508.9 90.2 L1506.3 91.5 L1501.1 89.5 L1493.2 88.2 L1484 88.2 L1474.8 90.8 L1470.2 95.4 L1468.9 102.7 M1499.3 380.6 L1492.1 381.2 L1486.8 379.9 L1481.6 380.6 L1476.3 382.5 L1471.1 381.2 L1465.8 377.9 L1460.6 376.6 L1455.3 374 L1448.8 372 L1443.5 368.1 L1438.2 362.2 L1435.6 356 L1434.3 350.8 L1430.4 348.1 L1425.1 346.8 L1420.5 345.5 L1419.9 340.2 L1422.5 335 L1420.5 331.1 L1418.6 324.5 L1415.9 319.2 L1410.7 320.6 L1404.1 319.2 L1401.5 314 L1396.2 311.4 L1393 308.8 L1393.6 303.5 L1389.7 299.6 L1388.4 293 L1385.8 287.8 L1387.1 282.5 L1393.6 278.6 L1401.5 274.6 L1402.8 269.4 L1408.1 262.8" fill="none" stroke="#3a3f44" stroke-width="2.7" stroke-linejoin="round" stroke-linecap="round"/>
<path d="M1006.6 212.4 L1010.5 211.7 L1017.1 211.1 L1023.6 207.8 L1031.5 203.2 L1039.4 197.9 L1044.6 191.4 L1049.9 183.5 L1055.1 179.6 L1055.8 177.6 L1057.8 171.7 L1060.4 165.1 L1061.7 158.6 L1061 153.3 L1057.8 149.4 L1055.8 145.4 L1056.4 138.9 L1057.8 132.3 L1057.8 131.7 L1055.8 127.7 L1054.5 123.8 L1057.8 122.5 L1063 122.1 L1061.7 125.8 L1059.7 129.7 L1059.1 132.3 L1060.4 134.3 L1066.9 136.2 L1074.8 136.9 L1081.4 136.9 L1082.7 133 L1086.6 127.7 L1093.2 128.4 L1099.8 129.7 L1103.7 134.3 L1107.6 139.5 L1108.7 145.4 L1107.6 150.7 L1103.7 155.9 L1098.4 160.5 L1091.9 163.8 L1087.3 165.1 L1083.3 168.4 L1080.7 175.6 L1078.8 182.2 L1076.1 190.1 L1073.5 195.3 L1069.6 200.6 L1063 205.8 L1056.4 209.8 L1049.9 213 L1042 215.7 L1035.4 218.3 L1028.9 219.6 L1023.6 218.9 L1018.4 217 L1013.1 215.7 L1008.5 214.3 Z" fill="#3a97d5" stroke="#3a3f44" stroke-width="1.6" stroke-linejoin="round"/>
<path d="M1006.6 212.4 L1010.5 211.7 L1017.1 211.1 L1023.6 207.8 L1031.5 203.2 L1039.4 197.9 L1044.6 191.4 L1049.9 183.5 L1055.1 179.6 L1055.8 177.6 L1057.8 171.7 L1060.4 165.1 L1061.7 158.6 L1061 153.3 L1057.8 149.4 L1055.8 145.4 L1056.4 138.9 L1057.8 132.3 L1057.8 131.7 L1055.8 127.7 L1054.5 123.8 L1057.8 122.5 L1063 122.1 L1061.7 125.8 L1059.7 129.7 L1059.1 132.3 L1060.4 134.3 L1066.9 136.2 L1074.8 136.9 L1081.4 136.9 L1082.7 133 L1086.6 127.7 L1093.2 128.4 L1099.8 129.7" fill="none" stroke="#3a3f44" stroke-width="2.7" stroke-linejoin="round"/>
<circle cx="1069.6" cy="164.7" r="5.2" fill="#b5111f"/>
<rect x="1239.9" y="207.2" width="9.9" height="9.3" fill="#f2f2f2" stroke="#000" stroke-width="1.5"/>
<text font-family="'Liberation Sans', sans-serif" font-size="23.6" x="1254.4" y="208.5" textLength="28.6" lengthAdjust="spacingAndGlyphs" fill="#000">BK</text>
<path d="M1248.6 192.7h5.9M1248.6 207.7h5.9" stroke="#000" stroke-width="1.5"/><path d="M1251.55 192v16.4" stroke="#000" stroke-width="1.9"/>
</g>
<rect x="958.45" y="18.9" width="620.8" height="401.8" fill="none" stroke="#151515" stroke-width="1.6"/>
<rect x="23.9" y="432.6" width="1557" height="705.3" fill="#fff" stroke="#222" stroke-width="1.8"/>
<rect x="50" y="459.5" width="1513" height="606" fill="#fafafa"/>
<g font-family="'Liberation Sans', sans-serif" font-size="18.15" fill="#000">
<path d="M216.42 550.4V1010.8M304.34 550.4V1010.8M392.26 550.4V1010.8M480.18 550.4V1010.8M568.1 550.4V1010.8M656.02 550.4V1010.8M743.94 550.4V1010.8M831.86 550.4V1010.8M919.78 550.4V1010.8M1007.7 550.4V1010.8M1095.62 550.4V1010.8M1183.54 550.4V1010.8M1271.46 550.4V1010.8M1359.38 550.4V1010.8M128.5 918.72H1447.3M128.5 826.64H1447.3M128.5 734.56H1447.3M128.5 642.48H1447.3" stroke="#a2a2a2" stroke-width="1" stroke-dasharray="1 2" fill="none"/>
<path d="M216.42 550.4v6.8M304.34 550.4v6.8M392.26 550.4v6.8M480.18 550.4v6.8M568.1 550.4v6.8M656.02 550.4v6.8M743.94 550.4v6.8M831.86 550.4v6.8M919.78 550.4v6.8M1007.7 550.4v6.8M1095.62 550.4v6.8M1183.54 550.4v6.8M1271.46 550.4v6.8M1359.38 550.4v6.8M128.5 918.72h6.8M1447.3 918.72h-6.8M128.5 826.64h6.8M1447.3 826.64h-6.8M128.5 734.56h6.8M1447.3 734.56h-6.8M128.5 642.48h6.8M1447.3 642.48h-6.8" stroke="#000" stroke-width="1" fill="none"/>
<path d="M318.99 1010.8V977.84H406.91V1010.8ZM406.91 1010.8V984.65H494.83V1010.8ZM494.83 1010.8V993.77H582.75V1010.8ZM582.75 1010.8V992.57H670.67V1010.8Z" fill="#a5faa5" stroke="#30ff30" stroke-width="1"/>
<path d="M128.5 1010.8V1005.28H143.15V1010.8ZM143.15 1010.8V1000.86H231.07V1010.8ZM231.07 1010.8V1002.88H318.99V1010.8ZM318.99 1010.8V978.94H406.91V1010.8ZM406.91 1010.8V991.83H494.83V1010.8ZM494.83 1010.8V999.47H582.75V1010.8ZM582.75 1010.8V998.46H670.67V1010.8ZM670.67 1010.8V1003.8H758.59V1010.8ZM758.59 1010.8V1003.8H846.51V1010.8ZM846.51 1010.8V987.23H934.43V1010.8ZM934.43 1010.8V993.67H1022.35V1010.8ZM1022.35 1010.8V967.43H1110.27V1010.8ZM1110.27 1010.8V940.08H1198.19V1010.8ZM1198.19 1010.8V939.07H1286.11V1010.8ZM1286.11 1010.8V991.74H1374.03V1010.8ZM1374.03 1010.8V1004.54H1447.3V1010.8Z" fill="#a5a5fa" stroke="#3030ff" stroke-width="1"/>
<clipPath id="pc"><rect x="128.5" y="550.4" width="1318.8" height="460.4"/></clipPath>
<polyline clip-path="url(#pc)" points="128.4,754.1 143.1,733.7 155.3,729.8 168.4,738.2 181.9,750.6 195,759.8 208.1,762 221.8,757.5 234.9,747.2 247.5,734.1 261.6,716.6 275.3,704.3 288.8,698.6 300.9,697.7 315,699.4 328.1,700.7 342.2,702 354.4,705 368.4,712.1 381.6,719.6 394.7,721.4 408.2,707.4 421.3,676.9 435,638.4 448.5,611.8 461.3,606.6 474.9,614.4 487.9,616.3 501.6,594.8 515,553 528.5,525 541.5,520 554.7,538.7 568.1,589.1 581.6,626.3 594.8,631.5 607.9,616.5 621.4,603.2 634.7,613.1 648.2,644.5 661.3,679.7 674.6,699.5 688,694.8 701.3,675.9 714.6,654.7 728.1,639.3 741.3,631.6 754.4,629.6 767.9,631.8 781.6,637.1 794.7,642.5 807.8,646.4 820.9,647.6 834.4,646.3 847.8,642.3 861.3,636.3 874.8,631.1 887.9,629.2 901.2,632.4 914.7,639.5 927.8,646.3 940.9,650.2 954.1,650.6 967.8,649.7 980.9,650.1 994.4,653.8 1008.1,658.3 1021.3,661.9 1034.4,663.9 1047.9,664.1 1061.2,663.6 1074.7,662.8 1087.8,662.6 1100.9,663.9 1114.4,667.5 1127.8,673.9 1141.3,683.8 1154.8,697.1 1167.9,714 1181.2,730.7 1194.3,741.2 1207.8,742.3 1220.9,738.8 1234.5,742 1247.7,761.6 1261.3,799.9 1274.1,840.5 1287.7,873 1301,887.7 1314.3,890.6 1327.8,891.1 1341.1,896.7 1354.7,908.2 1368,924.5 1380.8,940.2 1394.1,955.1 1407.5,966.4 1420.8,972.3 1433.9,971.6 1447.3,966.4" fill="none" stroke="#000" stroke-width="1.3" stroke-linejoin="round"/>
<rect x="128.5" y="550.4" width="1318.8" height="460.4" fill="none" stroke="#000" stroke-width="1.5"/>
<rect x="1376.3" y="561" width="49.7" height="9.5" fill="#a5faa5" stroke="#30ff30" stroke-width="1"/>
<rect x="1376.3" y="579.2" width="49.7" height="9.5" fill="#a5a5fa" stroke="#3030ff" stroke-width="1"/>
<path d="M1376.3 601.3H1426" stroke="#000" stroke-width="1.5"/>
<text x="1366.2" y="571.6" text-anchor="end" font-size="18.05">Niederschlag</text>
<text x="1366.2" y="589.7" text-anchor="end" font-size="18.05">Neuschnee</text>
<text x="1366.2" y="607.8" text-anchor="end" font-size="18.05">mittlerer Wind in 3000 m</text>
<text x="787.9" y="493.3" text-anchor="middle">LWD−Region 01 Allgäuer Alpen 1960m</text>
<text x="127.6" y="519.4">Schneefallgrenze</text>
<text x="128.4" y="536.9" font-size="16.3">400m</text>
<text x="216.32" y="536.9" font-size="16.3">0m</text>
<text x="304.24" y="536.9" font-size="16.3">400m</text>
<text x="392.16" y="536.9" font-size="16.3">400m</text>
<text x="480.08" y="536.9" font-size="16.3">300m</text>
<text x="568" y="536.9" font-size="16.3">900m</text>
<text x="655.92" y="536.9" font-size="16.3">300m</text>
<text x="743.84" y="536.9" font-size="16.3">400m</text>
<text x="831.76" y="536.9" font-size="16.3">900m</text>
<text x="919.68" y="536.9" font-size="16.3">900m</text>
<text x="1007.6" y="536.9" font-size="16.3">900m</text>
<text x="1095.52" y="536.9" font-size="16.3">300m</text>
<text x="1183.44" y="536.9" font-size="16.3">400m</text>
<text x="1271.36" y="536.9" font-size="16.3">500m</text>
<text x="1359.28" y="536.9" font-size="16.3">500m</text>
<text x="1447.2" y="536.9" font-size="16.3">0m</text>
<text x="118" y="1017" text-anchor="end">0</text>
<text x="1462.6" y="1017">0</text>
<text x="118" y="924.92" text-anchor="end">10</text>
<text x="1462.6" y="924.92">20</text>
<text x="118" y="832.84" text-anchor="end">20</text>
<text x="1462.6" y="832.84">40</text>
<text x="118" y="740.76" text-anchor="end">30</text>
<text x="1462.6" y="740.76">60</text>
<text x="118" y="648.68" text-anchor="end">40</text>
<text x="1462.6" y="648.68">80</text>
<text x="118" y="556.6" text-anchor="end">50</text>
<text x="1462.6" y="556.6">100</text>
<text x="128.5" y="1035" text-anchor="middle">00h</text>
<text x="128.5" y="1052.8" text-anchor="middle">Do,08.01.</text>
<text x="216.42" y="1035" text-anchor="middle">06h</text>
<text x="216.42" y="1052.8" text-anchor="middle">Do,08.01.</text>
<text x="304.34" y="1035" text-anchor="middle">12h</text>
<text x="304.34" y="1052.8" text-anchor="middle">Do,08.01.</text>
<text x="392.26" y="1035" text-anchor="middle">18h</text>
<text x="392.26" y="1052.8" text-anchor="middle">Do,08.01.</text>
<text x="480.18" y="1035" text-anchor="middle">00h</text>
<text x="480.18" y="1052.8" text-anchor="middle">Fr,09.01.</text>
<text x="568.1" y="1035" text-anchor="middle">06h</text>
<text x="568.1" y="1052.8" text-anchor="middle">Fr,09.01.</text>
<text x="656.02" y="1035" text-anchor="middle">12h</text>
<text x="656.02" y="1052.8" text-anchor="middle">Fr,09.01.</text>
<text x="743.94" y="1035" text-anchor="middle">18h</text>
<text x="743.94" y="1052.8" text-anchor="middle">Fr,09.01.</text>
<text x="831.86" y="1035" text-anchor="middle">00h</text>
<text x="831.86" y="1052.8" text-anchor="middle">Sa,10.01.</text>
<text x="919.78" y="1035" text-anchor="middle">06h</text>
<text x="919.78" y="1052.8" text-anchor="middle">Sa,10.01.</text>
<text x="1007.7" y="1035" text-anchor="middle">12h</text>
<text x="1007.7" y="1052.8" text-anchor="middle">Sa,10.01.</text>
<text x="1095.62" y="1035" text-anchor="middle">18h</text>
<text x="1095.62" y="1052.8" text-anchor="middle">Sa,10.01.</text>
<text x="1183.54" y="1035" text-anchor="middle">00h</text>
<text x="1183.54" y="1052.8" text-anchor="middle">So,11.01.</text>
<text x="1271.46" y="1035" text-anchor="middle">06h</text>
<text x="1271.46" y="1052.8" text-anchor="middle">So,11.01.</text>
<text x="1359.38" y="1035" text-anchor="middle">12h</text>
<text x="1359.38" y="1052.8" text-anchor="middle">So,11.01.</text>
<text x="1447.3" y="1035" text-anchor="middle">18h</text>
<text x="1447.3" y="1052.8" text-anchor="middle">So,11.01.</text>
<text transform="translate(74.1 780.1) rotate(-90)" text-anchor="middle">Neuschnee in cm/Niederschlag in mm</text>
<text transform="translate(1527.2 781) rotate(-90)" text-anchor="middle">mittlerer Wind in km/h</text>
</g>
<g fill="none" stroke="#1f4e5a" stroke-width="1.2" stroke-linecap="round">
<circle cx="64.15" cy="472.7" r="1.35"/>
<path d="M62.90 468.18C63.42 468.18 65.15 467.74 66.02 468.18C66.89 468.62 67.68 469.86 68.10 470.82C68.53 471.78 68.76 472.90 68.59 473.94C68.42 474.98 67.84 476.37 67.06 477.06C66.29 477.76 64.98 478.16 63.94 478.10C62.90 478.05 61.34 476.95 60.82 476.72"/>
<path d="M67.41 462.84C67.93 463.59 69.87 465.67 70.53 467.35C71.19 469.02 71.54 471.16 71.36 472.90C71.19 474.63 70.50 476.37 69.49 477.76C68.48 479.14 66.72 480.07 65.33 481.23C63.94 482.38 61.86 484.12 61.16 484.70"/>
<path d="M71.92 460.76C72.47 461.62 74.56 464.05 75.25 465.96C75.94 467.87 76.27 470.24 76.08 472.21C75.90 474.17 74.93 475.91 74.14 477.76C73.35 479.61 71.94 481.46 71.36 483.31C70.79 485.16 70.44 487.01 70.67 488.86C70.90 490.71 72.41 493.48 72.75 494.41"/>
<path d="M83.72 460.76C84.06 461.51 85.54 463.59 85.80 465.27C86.05 466.94 85.68 469.14 85.24 470.82C84.80 472.49 83.30 474.06 83.16 475.33C83.02 476.60 83.51 477.79 84.41 478.45C85.31 479.11 87.19 479.03 88.57 479.28C89.96 479.54 91.58 479.69 92.74 479.98C93.89 480.27 95.05 480.84 95.51 481.02"/>
<path d="M91.70 466.31C91.25 466.94 89.39 468.79 88.99 470.12C88.59 471.45 88.76 473.13 89.27 474.29C89.78 475.44 90.94 476.37 92.04 477.06C93.14 477.76 95.22 478.22 95.86 478.45"/>
<path d="M93.78 469.22C93.65 469.72 92.73 471.25 93.01 472.21C93.30 473.16 95.10 474.52 95.51 474.98"/>
<path d="M79.90 495.24C79.96 494.53 79.73 492.24 80.25 490.94C80.77 489.65 81.75 488.37 83.02 487.47C84.29 486.57 86.20 485.99 87.88 485.53C89.56 485.07 92.22 484.83 93.08 484.70"/>
<path d="M86.14 493.16C86.32 492.64 86.38 490.80 87.19 490.04C88.00 489.28 90.37 488.82 91.00 488.58"/>
</g>
<path d="M77.47 460.41C78.05 460.99 80.25 462.49 80.94 463.88C81.63 465.27 81.84 467.23 81.63 468.74C81.43 470.24 80.50 471.63 79.69 472.90C78.88 474.17 77.49 475.10 76.78 476.37C76.06 477.64 75.27 479.28 75.39 480.53C75.51 481.78 76.31 483.26 77.47 483.86C78.63 484.46 80.59 484.35 82.33 484.14C84.06 483.93 86.26 482.87 87.88 482.61C89.50 482.36 90.89 482.32 92.04 482.61C93.20 482.90 94.36 484.06 94.82 484.35" fill="none" stroke="#c3d545" stroke-width="1.35" stroke-linecap="round"/>
<text font-family="'Liberation Sans', sans-serif" x="49.6" y="510" font-size="10.6" font-weight="bold" fill="#17404d" textLength="57.8" lengthAdjust="spacingAndGlyphs">GeoSphere</text>
<text font-family="'Liberation Sans', sans-serif" x="59.8" y="522.9" font-size="11.6" fill="#3f6672" textLength="37.6" lengthAdjust="spacingAndGlyphs">Austria</text>
</g>
</svg>
</body></html>
